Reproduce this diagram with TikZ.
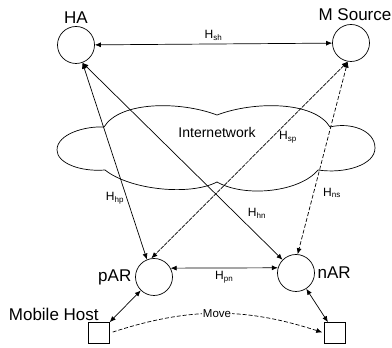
\documentclass[tikz,border=0pt]{standalone}
\usepackage{fontspec}
\setmainfont{Liberation Sans}
\usetikzlibrary{arrows.meta,positioning}

\begin{document}
\begin{tikzpicture}[x=1pt,y=1pt,line width=0.7pt,
		router/.style={draw,circle,minimum size=37pt,inner sep=0pt},
		host/.style={draw,rectangle,minimum size=21pt,inner sep=0pt},
		lbl/.style={font=\fontsize{17}{20}\selectfont,inner sep=0pt},
		hop/.style={font=\fontsize{12}{14}\selectfont,inner sep=0pt},
		link/.style={{Latex[length=6pt,width=5pt]}-{Latex[length=6pt,width=5pt]}},
		>={Latex[length=6pt,width=5pt]}]
		\useasboundingbox (0,0) rectangle (392,348);
		% the internetwork cloud
		\draw (104,221) .. controls (120,247) and (180,247) .. (217,233)
			.. controls (254,247) and (314,247) .. (330,221)
			.. controls (350,226) and (375,218) .. (375,200)
			.. controls (375,183) and (345,174) .. (318,178)
			.. controls (300,156) and (245,150) .. (217,166)
			.. controls (190,152) and (130,158) .. (105,178)
			.. controls (80,176) and (57,185) .. (57,198)
			.. controls (57,214) and (85,222) .. cycle;
		\node[font=\fontsize{14}{16}\selectfont] (inet) at (217,216) {Internetwork};
		% routers and hosts
		\node[router] (ha) at (76,303) {};
		\node[router] (ms) at (351,305) {};
		\node[router] (par) at (154,71) {};
		\node[router] (nar) at (296,75) {};
		\node[host] (mh) at (99,15) {};
		\node[host] (mh2) at (335,15) {};
		\node[lbl,above=2pt of ha] (hal) {HA};
		\node[lbl,above=3pt of ms,xshift=4pt] (msl) {M Source};
		\node[lbl,left=3.5pt of par] (parl) {pAR};
		\node[lbl,right=2.5pt of nar] (narl) {nAR};
		\node[lbl,anchor=base east] (mhl) at ([yshift=2pt]mh.north) {Mobile Host};
		% hops
		\draw[link] (ha) -- node[hop,above=3pt] {H\textsubscript{sh}} (ms);
		\draw[link] (ha.-70) -- (par.112);
		\draw[link] (ha.-70) -- (nar);
		\draw[link,dash pattern=on 4pt off 1pt] (ms.-100) -- (par.98);
		\draw[link,dash pattern=on 4pt off 2pt] (ms.-100) -- (nar.85);
		\draw[link] (par.28) -- node[hop,below=3pt] {H\textsubscript{pn}} (nar.164);
		\node[hop] (hhp) at (115,150) {H\textsubscript{hp}};
		\node[hop] (hhn) at (257,135) {H\textsubscript{hn}};
		\node[hop] (hsp) at (288,211) {H\textsubscript{sp}};
		\node[hop] (hns) at (332,155) {H\textsubscript{ns}};
		% access links and the move
		\draw[link] (mh) -- (par);
		\draw[link] (nar) -- (mh2);
		\draw[->,dash pattern=on 4pt off 2pt,shorten <=3pt,shorten >=2pt] (mh.east) to[bend left=18]
			node[fill=white,inner sep=1pt,font=\fontsize{11.5}{13}\selectfont] (mv) {Move} (mh2.west);
	\end{tikzpicture}
\end{document}
